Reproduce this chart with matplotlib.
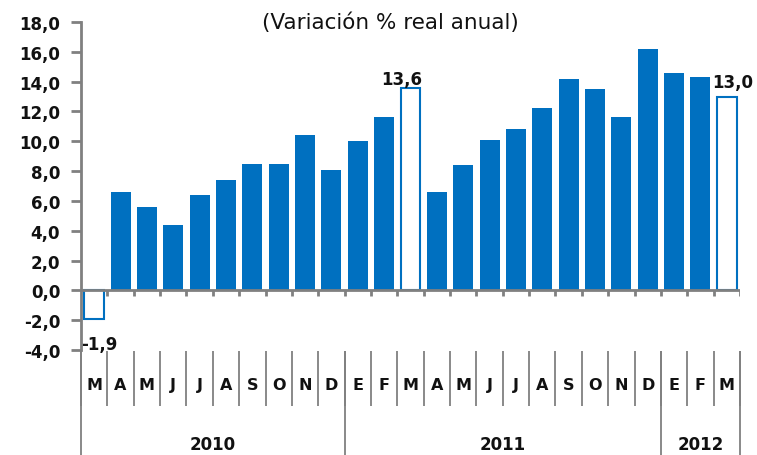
import numpy as np
import matplotlib.pyplot as plt

plt.rcParams['font.family'] = ['DejaVu Sans']

meses = ["M", "A", "M", "J", "J", "A", "S", "O", "N", "D", "E", "F",
         "M", "A", "M", "J", "J", "A", "S", "O", "N", "D", "E", "F", "M"]
valores = [-1.9, 6.6, 5.6, 4.4, 6.4, 7.4, 8.5, 8.5, 10.4, 8.1, 10.0, 11.6,
           13.6, 6.6, 8.4, 10.1, 10.8, 12.2, 14.2, 13.5, 11.6, 16.2, 14.6, 14.3, 13.0]
huecas = [0, 12, 24]          # barras sin relleno (con etiqueta)
anios = ["2010", "2011", "2012"]
meses_por_anio = [10, 12, 3]
yticks = np.arange(-4, 19, 2)

azul = "#0070C0"
gris = "#808080"
negro = "#111111"

fig = plt.figure(figsize=(7.57, 4.56), dpi=100)
ax = fig.add_axes([81 / 757, 105 / 456, 659 / 757, 328 / 456])

for i, v in enumerate(valores):
    if i in huecas:
        ax.bar(i, v, width=0.74, facecolor="white", edgecolor=azul, linewidth=1.5)
    else:
        ax.bar(i, v, width=0.76, color=azul)

# etiquetas de datos
for i in huecas:
    txt = f"{valores[i]:.1f}".replace(".", ",")
    if valores[i] < 0:
        ax.text(i - 0.5, -3.6, txt, ha="left", va="center", fontsize=12, fontweight="bold", color=negro)
    elif i == len(valores) - 1:
        ax.text(i + 0.23, valores[i] + 1.0, txt, ha="center", va="center", fontsize=12, fontweight="bold", color=negro)
    else:
        ax.text(i - 0.34, valores[i] + 0.55, txt, ha="center", va="center", fontsize=12, fontweight="bold", color=negro)

ax.set_xlim(-0.5, len(valores) - 0.5)
ax.set_ylim(-4, 18)
ax.set_yticks(yticks)
ax.set_yticklabels([f"{t:.1f}".replace(".", ",") for t in yticks], fontsize=12, fontweight="bold", color=negro)
ax.tick_params(axis="y", direction="out", length=7, width=2, color=gris, pad=8)
ax.set_xticks([])

for s in ["top", "right", "bottom"]:
    ax.spines[s].set_visible(False)
ax.spines["left"].set_color(gris)
ax.spines["left"].set_linewidth(2)

# eje en cero con marcas
ax.axhline(0, color=gris, linewidth=2, zorder=3)
bordes = np.arange(len(valores) + 1) - 0.5
ax.vlines(bordes[1:], -0.4, 0, color=gris, linewidth=2, zorder=3)

# etiquetas de categorias debajo del area
tr = ax.get_xaxis_transform()
ax.vlines(bordes, -0.171, -0.003, color=gris, linewidth=1.3, transform=tr, clip_on=False)
for i, m in enumerate(meses):
    ax.text(i, -0.104, m, transform=tr, ha="center", va="center", fontsize=11.5, fontweight="bold", color=negro)

limites = np.concatenate([[0], np.cumsum(meses_por_anio)]) - 0.5
ax.vlines(limites, -0.33, -0.003, color=gris, linewidth=1.3, transform=tr, clip_on=False)
for k, a in enumerate(anios):
    ax.text((limites[k] + limites[k + 1]) / 2, -0.287, a, transform=tr,
            ha="center", va="center", fontsize=12, fontweight="bold", color=negro)

fig.text(390 / 757, 1 - 23 / 456, "(Variación % real anual)", ha="center", va="center",
         fontsize=15.5, color=negro)

fig.savefig("out.png", dpi=100)
